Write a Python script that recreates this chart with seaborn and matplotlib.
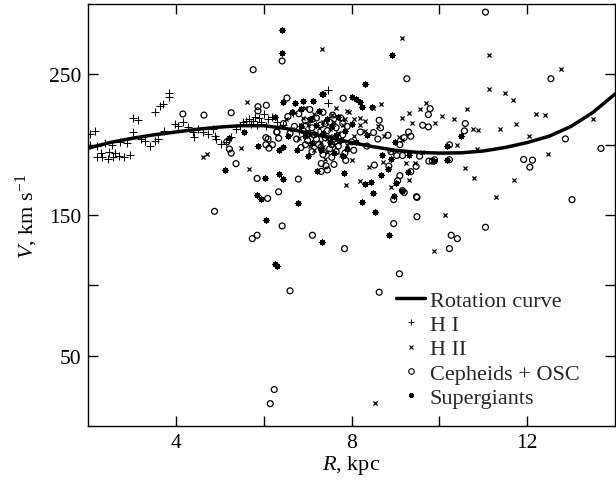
import numpy as np
import pandas as pd
import matplotlib
matplotlib.use("Agg")
import matplotlib.pyplot as plt
import seaborn as sns
from matplotlib.lines import Line2D

# ---------------- data ----------------
curve_R = [2, 2.5, 3, 3.5, 4, 4.5, 5, 5.5, 6, 6.5, 7, 7.5, 8, 8.5, 9, 9.5, 10,
           10.5, 11, 11.5, 12, 12.5, 13, 13.5, 14]
curve_V = [197.5, 201.5, 204.5, 207, 209, 211, 212.5, 213.5, 213.5, 211.5, 208.5,
           205, 201.5, 198.5, 196, 194.5, 194, 194.2, 195.5, 198, 201.5, 206,
           213, 223, 236]

hi_R = [2.04, 2.15, 2.05, 2.2, 2.32, 2.45, 2.58, 2.7, 2.82, 2.95, 2.3, 2.48, 2.62,
        2.2, 2.38, 2.55, 2.72, 2.88, 3.02, 3.21, 3.29, 3.4, 3.52, 3.59, 3.02, 3.14,
        3.52, 3.63, 3.7, 3.84, 3.84, 3.74, 3.97, 4.05, 4.16, 4.27, 4.39, 4.42, 4.5,
        4.61, 4.73, 4.84, 4.88, 4.92, 5.03, 5.14, 5.26, 5.37, 5.45, 5.52, 5.6, 5.67,
        5.75, 5.71, 5.8, 5.9, 6.0, 6.1, 5.85, 5.95, 6.05, 6.2, 6.3, 6.45, 6.67,
        7.46, 7.46, 6.8, 7.0]
hi_V = [207.6, 210, 200, 191, 191, 190, 191, 192, 191, 193, 194, 195, 194,
        199, 201, 200, 202, 201, 208.8, 204, 202.8, 199.3, 202.8, 204, 219, 217.8,
        223, 227.7, 229, 236.7, 233.6, 210, 214.7, 213.5, 215.9, 212.3, 208.8, 205.2, 211.2,
        208.8, 207.6, 211.2, 206.4, 204, 200.5, 201.7, 205.2, 211.2, 213.5, 215.9, 217, 218.2,
        217, 214.7, 220, 219, 222, 218, 214, 216, 213, 220, 216, 214, 222.5,
        239, 229.4, 210, 216]

hii_R = [9.14, 7.32, 11.14, 12.77, 11.13, 11.49, 11.68, 10.62, 12.19, 12.41, 13.5,
         10.34, 10.05, 9.69, 9.56, 9.3, 9.16, 9.38, 9.91, 10.77, 10.88, 11.38, 11.74,
         12.05, 12.47, 10.86, 10.59, 10.8, 11.7, 11.29, 10.13, 9.88, 8.54, 7.87, 8.19,
         8.5, 8.68, 7.9, 5.61, 4.61, 4.7, 5.49, 5.66, 9.07, 8.72, 9.45, 8.2, 8.3, 8.05,
         10.4,
         6.5, 6.65, 6.8, 6.9, 7.0, 7.05, 7.15, 7.2, 7.3, 7.35, 7.45, 7.5, 7.55, 7.6,
         7.7, 7.75, 7.8, 7.9, 7.95, 8.05, 8.2, 8.3, 8.4, 8.6, 8.75, 8.9, 9.15, 9.25,
         9.6, 7.4, 7.65, 6.95, 8.0, 9.3, 8.9, 7.25, 7.45, 7.6, 7.05, 7.35, 7.7, 7.85,
         6.85, 7.15, 7.5]
hii_V = [276, 267.7, 263.5, 253.5, 239.8, 236.8, 232, 225.2, 222, 221, 218,
         218, 220.4, 229.7, 225.2, 222.8, 218.6, 215.7, 215.7, 210.8, 210.3, 210.8, 215,
         206.3, 193.7, 196.6, 183.6, 176.5, 174.8, 163, 150, 124.5, 16.4, 171.3, 174.3,
         226.4, 229.2, 223.8, 230.4, 191.4, 193.3, 197.8, 182.4, 205.8, 188, 187, 214, 217, 218,
         200,
         218, 211, 205, 219, 214, 199, 222, 208, 202, 216, 195, 211, 221, 200,
         208, 193, 214, 200, 223, 206, 219, 210, 184, 213, 206, 196, 203, 187,
         195, 190, 226, 226, 189, 175, 170, 212, 204, 216, 207, 198, 202, 218,
         214, 196, 206]

ceph_R = [11.05, 6.42, 5.76, 9.26, 12.54, 6.53, 7.81, 4.16, 4.64, 5.26, 5.87, 5.87, 6.06,
          9.79, 9.75, 10.59, 9.62, 9.75, 10.57, 12.87, 13.68, 11.92, 12.12, 12.06, 10.23,
          9.84, 9.76, 13.02, 11.05, 10.27, 10.41, 10.23, 9.49, 9.49, 8.96, 9.09, 8.63, 6.6,
          7.11, 7.84, 6.42, 5.74, 5.85, 4.88, 5.37, 5.85, 6.09, 6.34, 6.79, 6.24, 6.15,
          8.96, 8.52, 8.85, 7.87, 7.31, 7.31, 9.03, 9.16, 9.55, 9.1, 9.2, 8.63, 8.66, 8.5,
          8.83, 9.2, 9.35, 5.22, 5.26, 5.16, 6.1, 6.05, 6.12, 6.34, 6.3, 7.57, 9.47, 9.89,
          10.23, 9.35, 9.05, 9.16, 9.48,
          6.45, 6.55, 6.6, 6.7, 6.75, 6.8, 6.85, 6.9, 6.95, 7.0, 7.05, 7.1, 7.1, 7.15,
          7.2, 7.25, 7.3, 7.35, 7.35, 7.4, 7.45, 7.5, 7.5, 7.55, 7.6, 7.65, 7.7, 7.75,
          7.8, 7.85, 7.9, 8.0, 8.05, 8.2, 8.35, 8.6, 8.9, 9.1, 9.3, 6.3, 6.2, 6.05,
          7.42, 7.45, 7.6, 7.0, 7.2, 7.4, 7.55, 7.65, 7.3, 6.95, 7.8, 7.1]
ceph_V = [294.2, 259.5, 253.3, 246.9, 246.9, 233.2, 233, 221.8, 221, 222.7, 227, 224, 228,
          225.6, 221.4, 215, 213.8, 212.6, 209.8, 204.1, 197.3, 189.5, 189, 184, 199.9,
          188.3, 188.3, 160.9, 141.3, 135.6, 133.2, 126.1, 162.5, 148.8, 143.9, 108.2, 95.1, 96.1,
          135.6, 126.1, 142.2, 133.2, 135.6, 152.6, 186.5, 176, 161.8, 166.5, 175.5, 25.9, 15.9,
          161, 185.5, 184.8, 188.8, 186.6, 181, 192.3, 192.3, 191.8, 178, 166, 217.4, 212, 208.6,
          206.7, 205, 206, 196.9, 194, 202, 204, 200, 197.5, 204.6, 209, 221, 184.6, 189.3,
          189.3, 180.8, 174.4, 167.3, 163,
          215, 220, 208, 213, 204, 222, 198, 210, 217, 203, 225, 195, 212, 207,
          219, 200, 214, 193, 223, 205, 210, 197, 216, 191, 204, 212, 199, 219,
          207, 194, 213, 202, 196, 209, 199, 204, 195, 200, 209, 209, 200, 205,
          185, 182, 186, 208, 204, 215, 200, 195, 198, 200, 215, 218]

sg_R = [6.42, 6.42, 8.92, 8.3, 7.35, 7.32, 8.02, 8.11, 8.2, 8.46, 8.25, 6.44, 6.71,
        6.89, 7.12, 6.84, 6.26, 5.56, 5.11, 6.04, 5.84, 5.95, 6.06, 6.35, 6.44, 6.77,
        6.26, 6.3, 7.33, 7.82, 8.31, 8.44, 8.49, 8.24, 8.54, 8.86, 8.96, 9.01, 9.15,
        8.68, 9.28, 8.83, 10.18, 10.18, 10.5, 9.88, 5.88, 7.22, 5.2, 9.3, 8.9,
        6.55, 6.65, 6.75, 6.85, 6.95, 7.05, 7.1, 7.2, 7.25, 7.3, 7.35, 7.45, 7.5,
        7.55, 7.6, 7.65, 7.7, 7.75, 7.85, 7.9, 8.0, 8.1, 8.35, 8.7, 6.35, 6.45,
        7.0, 7.8, 9.0]
sg_V = [281.7, 265.4, 264, 243, 236, 235.8, 233.7, 232.3, 230.4, 226.8, 226.8, 230.6, 229.6,
        231.3, 231.3, 225.6, 219.7, 208.9, 181.9, 176, 164.2, 161.3, 146.5, 179.1, 175.3, 158.3,
        115.2, 114, 130.6, 180, 171.7, 173.6, 165.4, 159.5, 152.4, 135.8, 163.5, 173, 167.3,
        178.4, 180.7, 183, 199.2, 189, 206.5, 188.3, 199.2, 181.2, 205, 193, 190,
        206, 223, 196, 213, 206, 218, 201, 214, 224, 196, 208, 218, 202,
        213, 194, 207, 220, 203, 210, 197, 215, 202, 207, 193, 196, 198,
        192, 192, 202]

x_ticks = [4, 6, 8, 10, 12]
x_labels = ["4", "", "8", "", "12"]
y_ticks = [50, 100, 150, 200, 250]
y_labels = ["50", "", "150", "", "250"]

# ---------------- style ----------------
sns.set_theme(style="ticks")
plt.rcParams["font.family"] = ["Liberation Serif", "DejaVu Serif"]
plt.rcParams["mathtext.fontset"] = "custom"
plt.rcParams["mathtext.rm"] = "Liberation Serif"
plt.rcParams["mathtext.it"] = "Liberation Serif:italic"

fig = plt.figure(figsize=(6.16, 4.85), dpi=100)
ax = fig.add_axes([0.1429, 0.1196, 0.8555, 0.8701])

sns.lineplot(x=curve_R, y=curve_V, color="black", linewidth=2.5, ax=ax,
             estimator=None, sort=True)
sns.scatterplot(x=hi_R, y=hi_V, marker="+", color="black", s=40, linewidth=0.75, ax=ax)
sns.scatterplot(x=hii_R, y=hii_V, marker="x", color="black", s=9, linewidth=0.9, ax=ax)
sns.scatterplot(x=ceph_R, y=ceph_V, marker="o", facecolor="none", edgecolor="black",
                s=18, linewidth=0.9, ax=ax)
sns.scatterplot(x=sg_R, y=sg_V, marker=(8, 2, 0), color="black", s=14, linewidth=1.0, ax=ax)

ax.set_xlim(2, 14)
ax.set_ylim(0, 300)
ax.set_xticks(x_ticks)
ax.set_xticklabels(x_labels)
ax.set_yticks(y_ticks)
ax.set_yticklabels(y_labels)
ax.tick_params(direction="in", length=7, width=1, top=True, right=True,
               labelsize=15.5, pad=5, color="black", labelcolor="black")
for sp in ax.spines.values():
    sp.set_visible(True)
    sp.set_linewidth(1.0)
    sp.set_color("black")

ax.set_xlabel("$R$, kpc", fontsize=16, labelpad=1, color="black")
ax.set_ylabel("$V$, km s$^{-1}$", fontsize=16, labelpad=6, color="black")

handles = [
    Line2D([], [], color="black", lw=2.5),
    Line2D([], [], marker="+", ls="", color="black", ms=5, mew=0.7),
    Line2D([], [], marker="x", ls="", color="black", ms=3, mew=0.8),
    Line2D([], [], marker="o", ls="", mfc="none", mec="black", ms=4, mew=0.8),
    Line2D([], [], marker=(8, 2, 0), ls="", color="black", ms=3.5, mew=1.0),
]
labels = ["Rotation curve", "H I", "H II", "Cepheids + OSC", "Supergiants"]
ax.legend(handles, labels, loc="upper left", bbox_to_anchor=(0.585, 0.322),
          frameon=False, fontsize=16, labelspacing=0.17, handlelength=1.3,
          handletextpad=0.2, borderpad=0, borderaxespad=0)

fig.savefig("out.png", dpi=100)
